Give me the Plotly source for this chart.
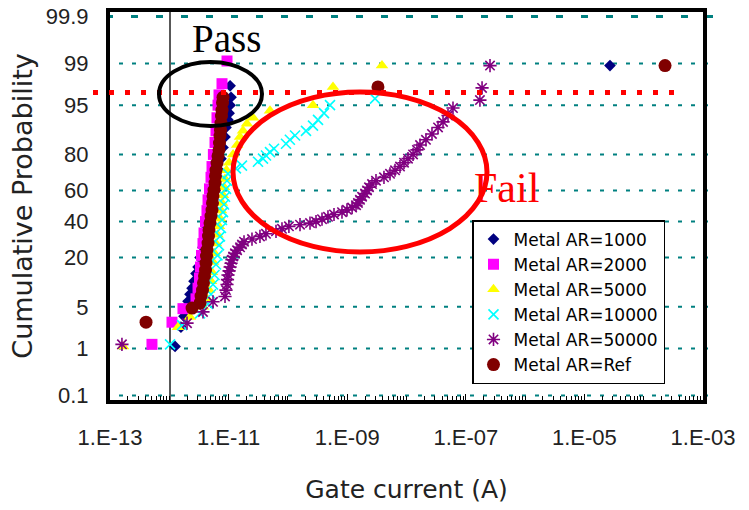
import plotly.graph_objects as go
from statistics import NormalDist

nd = NormalDist()

# ---------------- axis ticks ----------------
y_tick_pct = [0.1, 1, 5, 20, 40, 60, 80, 95, 99, 99.9]
y_tick_text = ["0.1", "1", "5", "20", "40", "60", "80", "95", "99", "99.9"]
x_tick_vals = [1e-13, 1e-11, 1e-9, 1e-7, 1e-5, 1e-3]
x_tick_text = ["1.E-13", "1.E-11", "1.E-09", "1.E-07", "1.E-05", "1.E-03"]

# ---------------- data (gate current in A, cumulative probability in %) ----------------
ar1000_current = [1.25e-12, 1.57e-12, 1.77e-12, 1.91e-12, 2.07e-12, 2.23e-12, 2.42e-12, 2.61e-12,
                  2.82e-12, 3.05e-12, 3.30e-12, 3.70e-12, 4.00e-12, 4.32e-12, 4.67e-12, 5.05e-12,
                  5.46e-12, 5.90e-12, 6.37e-12, 6.89e-12, 7.44e-12, 8.05e-12, 8.70e-12, 9.04e-12,
                  9.77e-12, 1.02e-11, 1.06e-11, 1.10e-11, 1.06e-11, 2.70e-5]
ar1000_prob = [1.1, 2.4, 3.6, 4.8, 6.0, 7.5, 9.0, 11.0, 13.5, 16.0, 20, 25, 30, 36, 42, 48,
               54, 60, 66, 72, 78, 83, 87, 90, 92, 93.5, 95, 96.2, 97.5, 98.9]

ar2000_current = [5.10e-13, 1.11e-12, 1.70e-12, 2.82e-12, 3.05e-12, 3.23e-12, 3.36e-12, 3.49e-12,
                  3.70e-12, 3.85e-12, 4.08e-12, 4.32e-12, 4.50e-12, 4.76e-12, 5.05e-12, 5.25e-12,
                  5.54e-12, 5.90e-12, 6.13e-12, 6.37e-12, 6.63e-12, 6.89e-12, 7.74e-12, 9.40e-12]
ar2000_prob = [1.2, 2.9, 4.7, 6.5, 9, 12, 16, 21, 27, 33, 40, 47, 54, 61, 68, 74,
               80, 85, 89, 92.5, 95, 96.5, 97.7, 99.1]

ar5000_current = [1.66e-13, 1.40e-12, 2.23e-12, 3.70e-12, 4.32e-12, 4.67e-12, 5.05e-12, 5.25e-12,
                  5.46e-12, 5.78e-12, 6.13e-12, 6.50e-12, 6.89e-12, 7.16e-12, 7.44e-12, 7.74e-12,
                  8.05e-12, 8.36e-12, 8.70e-12, 9.22e-12, 1.02e-11, 1.19e-11, 1.39e-11, 1.56e-11,
                  1.75e-11, 2.04e-11, 2.58e-11, 4.99e-11, 2.65e-10, 5.76e-10, 3.86e-9]
ar5000_prob = [1.1, 2.4, 3.5, 5, 6.5, 8.5, 11, 14, 18, 22, 27, 32, 37, 42, 47, 52,
               57, 62, 67, 72, 76, 80, 84, 87, 89, 91, 92.5, 94, 95, 97.4, 98.9]

ar10000_current = [1.03e-12, 1.64e-12, 3.30e-12, 4.50e-12, 5.05e-12, 5.46e-12, 5.78e-12, 6.13e-12,
                   6.50e-12, 6.89e-12, 7.16e-12, 7.44e-12, 7.74e-12, 8.05e-12, 8.36e-12, 8.70e-12,
                   9.04e-12, 9.40e-12, 9.77e-12, 1.33e-11, 1.68e-11, 3.13e-11, 3.80e-11, 4.27e-11,
                   4.99e-11, 5.83e-11, 9.29e-11, 1.08e-10, 1.32e-10, 2.02e-10, 2.65e-10, 3.22e-10,
                   4.06e-10, 5.13e-10, 2.94e-9]
ar10000_prob = [1.2, 2.6, 4, 5.5, 7.5, 10, 13, 17, 21, 26, 31, 36, 41, 46, 51, 56,
                61, 66, 70, 73, 74.5, 76.5, 78, 79.5, 81, 82.5, 84.5, 86, 87.5, 89, 90.5, 92,
                93.5, 95, 96]

ar50000_current = [1.59e-13, 1.99e-12, 3.70e-12, 5.46e-12, 8.70e-12, 9.04e-12, 9.40e-12, 9.58e-12,
                   9.77e-12, 1.02e-11, 1.06e-11, 1.10e-11, 1.14e-11, 1.19e-11, 1.28e-11, 1.39e-11,
                   1.56e-11, 1.68e-11, 1.82e-11, 2.48e-11, 3.38e-11, 4.27e-11, 6.30e-11, 7.95e-11,
                   1.04e-10, 1.60e-10, 2.36e-10, 2.98e-10, 3.76e-10, 4.74e-10, 5.99e-10, 8.17e-10,
                   9.92e-10, 1.21e-9, 1.41e-9, 1.52e-9, 1.64e-9, 1.78e-9, 2.00e-9, 2.16e-9,
                   2.33e-9, 2.62e-9, 3.06e-9, 4.17e-9, 5.27e-9, 6.40e-9, 7.77e-9, 9.08e-9,
                   1.06e-8, 1.29e-8, 1.50e-8, 1.69e-8, 2.13e-8, 2.69e-8, 3.40e-8, 4.13e-8,
                   5.01e-8, 6.08e-8, 1.73e-7, 1.88e-7, 2.56e-7]
ar50000_prob = [1.2, 2.8, 4.2, 5.9, 7, 8.5, 10, 11.5, 13, 14.5, 16, 17.5, 19, 20.5, 22, 23.5,
                25, 26.5, 28, 29.5, 31, 32.5, 34, 35.5, 37, 38, 39, 40, 41.5, 43, 44.5, 46,
                47.5, 49, 50.5, 52, 54, 56, 58, 60, 62, 64, 66, 68, 70, 72, 74, 76,
                78, 80, 82, 84, 86, 88, 90, 91.5, 93, 94.5, 95.8, 97.3, 98.9]

ref_current = [4.05e-13, 2.42e-12, 3.30e-12, 3.43e-12, 3.63e-12, 3.77e-12, 3.92e-12, 4.08e-12,
               4.16e-12, 4.24e-12, 4.32e-12, 4.50e-12, 4.58e-12, 4.67e-12, 4.86e-12, 5.05e-12,
               5.25e-12, 5.35e-12, 5.46e-12, 5.67e-12, 5.90e-12, 6.01e-12, 6.13e-12, 6.37e-12,
               6.63e-12, 6.89e-12, 7.02e-12, 7.16e-12, 7.30e-12, 7.44e-12, 7.59e-12, 7.74e-12,
               7.89e-12, 8.05e-12, 3.30e-9, 2.29e-4]
ref_prob = [2.9, 4.8, 5.7, 7.1, 8.5, 10.5, 12.7, 14.8, 17.6, 20.7, 23.6, 27.3, 31.2, 34.8, 39.1, 43.5,
            47.4, 52.0, 56.5, 60.3, 64.6, 68.8, 72.1, 75.8, 79.3, 82.0, 84.8, 87.3, 89.2, 91.2, 92.9, 94.1,
            95.4, 96.2, 97.4, 98.9]

pass_limit_pct = 96.8

series = [
    ("Metal AR=1000", ar1000_current, ar1000_prob, "diamond", "#000080", 9),
    ("Metal AR=2000", ar2000_current, ar2000_prob, "square", "#FF00FF", 11),
    ("Metal AR=5000", ar5000_current, ar5000_prob, "triangle-up", "#FFFF00", 11),
    ("Metal AR=10000", ar10000_current, ar10000_prob, "x-thin-open", "#00FFFF", 10),
    ("Metal AR=50000", ar50000_current, ar50000_prob, "asterisk-open", "#800080", 11),
    ("Metal AR=Ref", ref_current, ref_prob, "circle", "#800000", 13),
]


def probit(p):
    return nd.inv_cdf(p / 100.0)


fig = go.Figure()
for name, cur, prob, sym, col, size in series:
    open_sym = sym.endswith("open")
    fig.add_trace(go.Scatter(
        x=cur, y=[probit(p) for p in prob], mode="markers", name=name,
        marker=dict(symbol=sym, color=col, size=size,
                    line=dict(color=col, width=1.6 if open_sym else 0)),
    ))

# plot geometry (pixels)
W, H = 749, 510
L, R, T, B = 110, 46, 12, 110
PW, PH = W - L - R, H - T - B


def px(xp):
    return (xp - L) / PW


def py(yp):
    return (H - B - yp) / PH


shapes = []
# dashed teal gridlines at probability ticks (extend slightly past the frame)
for p in y_tick_pct:
    top = p == 99.9
    shapes.append(dict(type="line", xref="paper", yref="y", x0=px(106), x1=px(713),
                       y0=probit(p), y1=probit(p), layer="below",
                       line=dict(color="#008080", width=3 if top else 2,
                                 dash="7px,18px" if top else "4px,9px")))
# vertical axis line at 1E-12
shapes.append(dict(type="line", xref="paper", yref="paper", x0=px(170), x1=px(170), y0=0, y1=1,
                   layer="below", line=dict(color="#202020", width=1.5)))
# red dotted pass limit
shapes.append(dict(type="line", xref="paper", yref="y", x0=px(93), x1=px(678),
                   y0=probit(pass_limit_pct), y1=probit(pass_limit_pct),
                   line=dict(color="#FF0000", width=5, dash="5px,11px")))
# black "Pass" ellipse
shapes.append(dict(type="circle", xref="paper", yref="paper", x0=px(159), x1=px(262),
                   y0=py(126), y1=py(62), line=dict(color="black", width=4)))
# red "Fail" ellipse
shapes.append(dict(type="circle", xref="paper", yref="paper", x0=px(233), x1=px(487),
                   y0=py(252), y1=py(92), line=dict(color="#FF0000", width=5)))

annotations = [
    dict(text="Pass", xref="paper", yref="paper", x=px(226), y=py(39), showarrow=False,
         xanchor="center", yanchor="middle",
         font=dict(family="Liberation Serif", size=39, color="black")),
    dict(text="Fail", xref="paper", yref="paper", x=px(506), y=py(188), showarrow=False,
         xanchor="center", yanchor="middle",
         font=dict(family="Liberation Serif", size=42, color="#FF0000")),
]

tick_font = dict(family="Liberation Sans", size=22, color="#222222")

fig.update_layout(
    width=W, height=H, autosize=False,
    margin=dict(l=L, r=R, t=T, b=B, pad=0),
    paper_bgcolor="white", plot_bgcolor="rgba(0,0,0,0)",
    showlegend=True,
    legend=dict(x=px(472), y=py(220), xanchor="left", yanchor="top",
                bgcolor="white", bordercolor="black", borderwidth=1.5,
                font=dict(family="DejaVu Sans", size=17, color="black"),
                entrywidth=165, entrywidthmode="pixels",
                tracegroupgap=0),
    xaxis=dict(type="log", range=[-13, -3], tickvals=x_tick_vals, ticktext=x_tick_text,
               tickfont=tick_font, ticks="inside", ticklen=6, tickcolor="black",
               showgrid=False, zeroline=False, showline=True, linewidth=4, linecolor="black",
               mirror=True, ticklabelstandoff=15, automargin=False,
               minor=dict(ticks="inside", ticklen=4, tickcolor="black", dtick="D1", showgrid=False),
               title=dict(text="Gate current (A)", standoff=32,
                          font=dict(family="DejaVu Sans", size=25, color="#222222"))),
    yaxis=dict(range=[-3.165, 3.165], tickvals=[probit(p) for p in y_tick_pct], ticktext=y_tick_text,
               tickfont=tick_font, ticks="", showgrid=False, zeroline=False, automargin=False,
               showline=True, linewidth=4, linecolor="black", mirror=True, ticklabelstandoff=13,
               title=dict(text="Cumulative Probability", standoff=6,
                          font=dict(family="DejaVu Sans", size=27, color="#222222"))),
    shapes=shapes,
    annotations=annotations,
)

fig.write_html("out.html", config={"displayModeBar": False},
               post_script="document.body.style.margin='0px';")
